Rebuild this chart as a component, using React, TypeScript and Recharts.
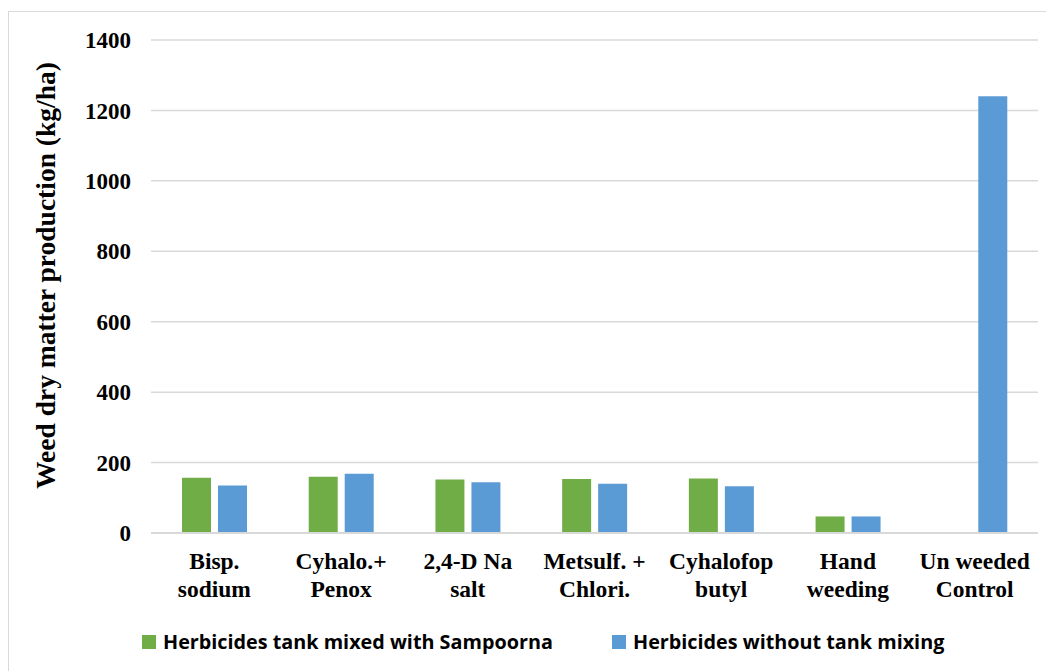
import React from "react";
import { BarChart, Bar, XAxis, YAxis, CartesianGrid } from "recharts";

const categories = [
  "Bisp.\nsodium",
  "Cyhalo.+\nPenox",
  "2,4-D Na\nsalt",
  "Metsulf. +\nChlori.",
  "Cyhalofop\nbutyl",
  "Hand\nweeding",
  "Un weeded\nControl",
];
const tankMixed = [157, 160, 152, 153, 155, 47, 0];
const withoutMixing = [135, 168, 144, 140, 133, 47, 1240];
const yTicks = [0, 200, 400, 600, 800, 1000, 1200, 1400];

const GREEN = "#70AD47";
const BLUE = "#5B9BD5";
const SERIF = "'Liberation Serif', 'Times New Roman', serif";

const data = categories.map((c, i) => ({
  name: c,
  mixed: tankMixed[i],
  without: withoutMixing[i],
}));

function CategoryTick(props: any) {
  const { x, y, payload } = props;
  const lines = String(payload.value).split("\n");
  return (
    <text
      x={x}
      y={y}
      textAnchor="middle"
      fontFamily={SERIF}
      fontWeight="bold"
      fontSize={23.5}
      fill="#000"
    >
      {lines.map((l, i) => (
        <tspan key={i} x={x} dy={28}>
          {l}
        </tspan>
      ))}
    </text>
  );
}

function YTitle(props: any) {
  const { viewBox } = props;
  const cx = viewBox.x + 36;
  const cy = viewBox.y + viewBox.height / 2 - 11;
  return (
    <text
      x={cx}
      y={cy}
      transform={`rotate(-90 ${cx} ${cy})`}
      textAnchor="middle"
      dominantBaseline="central"
      fontFamily={SERIF}
      fontWeight="bold"
      fontSize={27.5}
      fill="#000"
    >
      Weed dry matter production (kg/ha)
    </text>
  );
}

const legendItems = [
  { label: "Herbicides tank mixed with Sampoorna", color: GREEN, left: 133 },
  { label: "Herbicides without tank mixing", color: BLUE, left: 603 },
];

export default function App() {
  return (
    <div
      style={{
        position: "relative",
        marginTop: 3,
        width: 1044,
        height: 680,
        border: "1px solid #d9d9d9",
        boxSizing: "border-box",
        overflow: "hidden",
      }}
    >
      <BarChart
        width={1044}
        height={660}
        data={data}
        margin={{ top: 28, right: 15, bottom: 79, left: 0 }}
        barSize={29}
        barGap={7}
      >
        <CartesianGrid vertical={false} stroke="#d9d9d9" strokeWidth={1.5} />
        <XAxis
          dataKey="name"
          interval={0}
          height={60}
          tick={<CategoryTick />}
          tickLine={false}
          axisLine={{ stroke: "#d9d9d9", strokeWidth: 2 }}
        />
        <YAxis
          width={142}
          domain={[0, 1400]}
          ticks={yTicks}
          interval={0}
          axisLine={false}
          tickLine={false}
          tickSize={0}
          tickMargin={20}
          tick={{ fontFamily: SERIF, fontWeight: "bold", fontSize: 23, fill: "#000" }}
          label={<YTitle />}
        />
        <Bar dataKey="mixed" fill={GREEN} isAnimationActive={false} />
        <Bar dataKey="without" fill={BLUE} isAnimationActive={false} />
      </BarChart>
      {legendItems.map((it) => (
        <div
          key={it.label}
          style={{
            position: "absolute",
            left: it.left,
            top: 616,
            display: "flex",
            alignItems: "center",
            fontFamily: "'Open Sans', sans-serif",
            fontWeight: "bold",
            fontSize: 19.8,
            color: "#000",
            whiteSpace: "nowrap",
          }}
        >
          <span
            style={{
              display: "inline-block",
              width: 14,
              height: 14,
              background: it.color,
              marginRight: 7,
            }}
          />
          {it.label}
        </div>
      ))}
    </div>
  );
}
